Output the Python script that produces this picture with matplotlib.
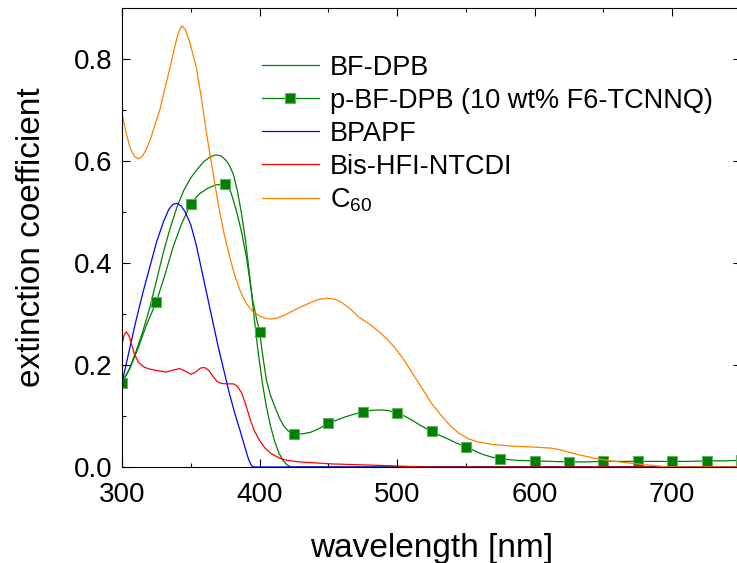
import matplotlib
matplotlib.use("Agg")
import matplotlib.pyplot as plt

plt.rcParams['font.family'] = ['Liberation Sans', 'DejaVu Sans']
plt.rcParams['mathtext.fontset'] = 'custom'
plt.rcParams['mathtext.rm'] = 'Liberation Sans'
plt.rcParams['mathtext.it'] = 'Liberation Sans'

# BF-DPB
bf_wl = [300, 305, 310, 315, 320, 325, 330, 335, 340, 345, 350, 355, 360, 364, 368, 372, 375, 378, 381,
         384, 387, 390, 393, 396, 399, 402, 405, 408, 411, 414, 417, 420, 423, 750]
bf_val = [0.165, 0.19, 0.225, 0.265, 0.31, 0.365, 0.42, 0.468, 0.51, 0.543, 0.567, 0.585, 0.600, 0.608,
          0.612, 0.61, 0.603, 0.592, 0.574, 0.54, 0.495, 0.44, 0.37, 0.295, 0.225, 0.165, 0.118, 0.08,
          0.05, 0.028, 0.013, 0.004, 0.0, 0.0]

# p-BF-DPB (10 wt% F6-TCNNQ), markers every 25 nm
pbf_wl = [300, 306, 312, 318, 325, 331, 337, 343, 350, 356, 362, 368, 375, 379, 383, 387, 390.5, 393, 395,
          397.5, 400, 402.5, 405, 408, 412, 415, 418, 421, 425, 431, 437, 443, 450, 456, 462, 468, 475,
          481, 487, 493, 500, 506, 512, 518, 525, 531, 537, 543, 550, 556, 562, 568, 575, 587, 600, 612,
          625, 637, 650, 662, 675, 687, 700, 712, 725, 737, 750]
pbf_val = [0.165, 0.195, 0.235, 0.28, 0.324, 0.375, 0.43, 0.475, 0.516, 0.535, 0.546, 0.553, 0.555, 0.54,
           0.504, 0.46, 0.41, 0.365, 0.327, 0.295, 0.265, 0.215, 0.17, 0.14, 0.112, 0.093, 0.079, 0.07,
           0.065, 0.065, 0.068, 0.075, 0.086, 0.092, 0.098, 0.103, 0.108, 0.111, 0.112, 0.111, 0.106,
           0.099, 0.09, 0.08, 0.07, 0.062, 0.055, 0.047, 0.04, 0.032, 0.025, 0.02, 0.016, 0.013, 0.012,
           0.011, 0.010, 0.010, 0.011, 0.011, 0.011, 0.011, 0.011, 0.011, 0.012, 0.012, 0.013]
pbf_marks = [i for i, w in enumerate(pbf_wl) if w % 25 == 0]

# BPAPF
bp_wl = [300, 305, 310, 315, 320, 325, 330, 334, 337, 340, 343, 346, 350, 354, 358, 362, 366, 370, 374,
         378, 382, 386, 389, 392, 394, 396, 750]
bp_val = [0.165, 0.225, 0.285, 0.34, 0.39, 0.44, 0.48, 0.505, 0.515, 0.517, 0.512, 0.5, 0.475, 0.435,
          0.385, 0.335, 0.285, 0.235, 0.19, 0.145, 0.105, 0.07, 0.042, 0.015, 0.003, 0.0, 0.0]

# Bis-HFI-NTCDI
bis_wl = [300, 301.5, 303, 305, 307, 309, 312, 316, 320, 326, 332, 337, 342, 346, 350, 353, 357, 360, 363,
          366, 369, 372, 376, 381, 384, 387, 390, 393, 396, 400, 404, 408, 414, 420, 429, 453, 489, 520, 750]
bis_val = [0.24, 0.258, 0.265, 0.258, 0.24, 0.222, 0.205, 0.196, 0.192, 0.189, 0.186, 0.19, 0.193, 0.188,
           0.182, 0.185, 0.194, 0.195, 0.19, 0.178, 0.168, 0.164, 0.163, 0.163, 0.158, 0.145, 0.122,
           0.095, 0.072, 0.052, 0.037, 0.027, 0.018, 0.013, 0.01, 0.006, 0.003, 0.0, 0.0]

# C60
c60_wl = [300, 303, 306, 309, 312, 315, 318, 321, 324, 327.5, 331, 335, 338, 341, 343.5, 346, 349, 352,
          354, 357, 359, 362, 366, 370, 374, 378, 382, 386, 390, 395, 400, 404, 408, 413, 420, 427, 435,
          442, 449, 455, 460, 466, 472, 480, 487, 493, 498, 505, 512, 518, 525, 533, 539, 545, 552, 559,
          570, 583, 600, 612, 618, 625, 632, 644, 655, 668, 682, 697, 750]
c60_val = [0.694, 0.655, 0.625, 0.609, 0.604, 0.61, 0.625, 0.645, 0.672, 0.70, 0.74, 0.784, 0.82, 0.852,
           0.865, 0.858, 0.835, 0.805, 0.784, 0.735, 0.70, 0.645, 0.58, 0.515, 0.46, 0.415, 0.375, 0.345,
           0.322, 0.305, 0.296, 0.292, 0.29, 0.292, 0.30, 0.31, 0.32, 0.328, 0.331, 0.329, 0.322, 0.31,
           0.294, 0.28, 0.265, 0.25, 0.235, 0.21, 0.18, 0.155, 0.125, 0.098, 0.08, 0.066, 0.055, 0.049,
           0.044, 0.041, 0.039, 0.037, 0.034, 0.029, 0.024, 0.017, 0.012, 0.008, 0.004, 0.0, 0.0]

fig = plt.figure(figsize=(7.37, 5.63), dpi=100)
ax = fig.add_axes([122 / 737, 1 - 467 / 563, 619 / 737, 459 / 563])

lw = 0.9
ax.plot(bf_wl, bf_val, color='#008000', lw=lw, label='BF-DPB')
ax.plot(pbf_wl, pbf_val, color='#008000', lw=lw, marker='s', markersize=7.5,
        markerfacecolor='#008000', markeredgecolor='#5fb05f', markeredgewidth=0.8,
        markevery=pbf_marks, label='p-BF-DPB (10 wt% F6-TCNNQ)')
ax.plot(bp_wl, bp_val, color='#0000ff', lw=lw, label='BPAPF')
ax.plot(bis_wl, bis_val, color='#ff0000', lw=lw, label='Bis-HFI-NTCDI')
ax.plot(c60_wl, c60_val, color='#ff8000', lw=lw, label='C$_{60}$')

ax.set_xlim(300, 750)
ax.set_ylim(0, 0.9)
ax.set_xticks([300, 400, 500, 600, 700])
ax.set_xticks(range(350, 751, 100), minor=True)
ax.set_yticks([0.0, 0.2, 0.4, 0.6, 0.8])
ax.set_yticks([0.1, 0.3, 0.5, 0.7], minor=True)
ax.tick_params(which='both', direction='in', top=True, right=True, width=0.8, labelsize=20)
ax.tick_params(which='major', length=6)
ax.tick_params(which='minor', length=3.2)
ax.tick_params(axis='y', pad=7)
ax.tick_params(axis='x', pad=11)
for s in ax.spines.values():
    s.set_linewidth(0.8)

ax.set_xlabel('wavelength [nm]', fontsize=24, labelpad=18)
ax.set_ylabel('extinction coefficient', fontsize=24, labelpad=19)

ax.legend(loc='upper left', bbox_to_anchor=(0.2, 0.934), frameon=False, fontsize=19.5,
          handlelength=2.1, handletextpad=0.4, labelspacing=0.26, borderaxespad=0.2)

fig.savefig('out.png', dpi=100)
